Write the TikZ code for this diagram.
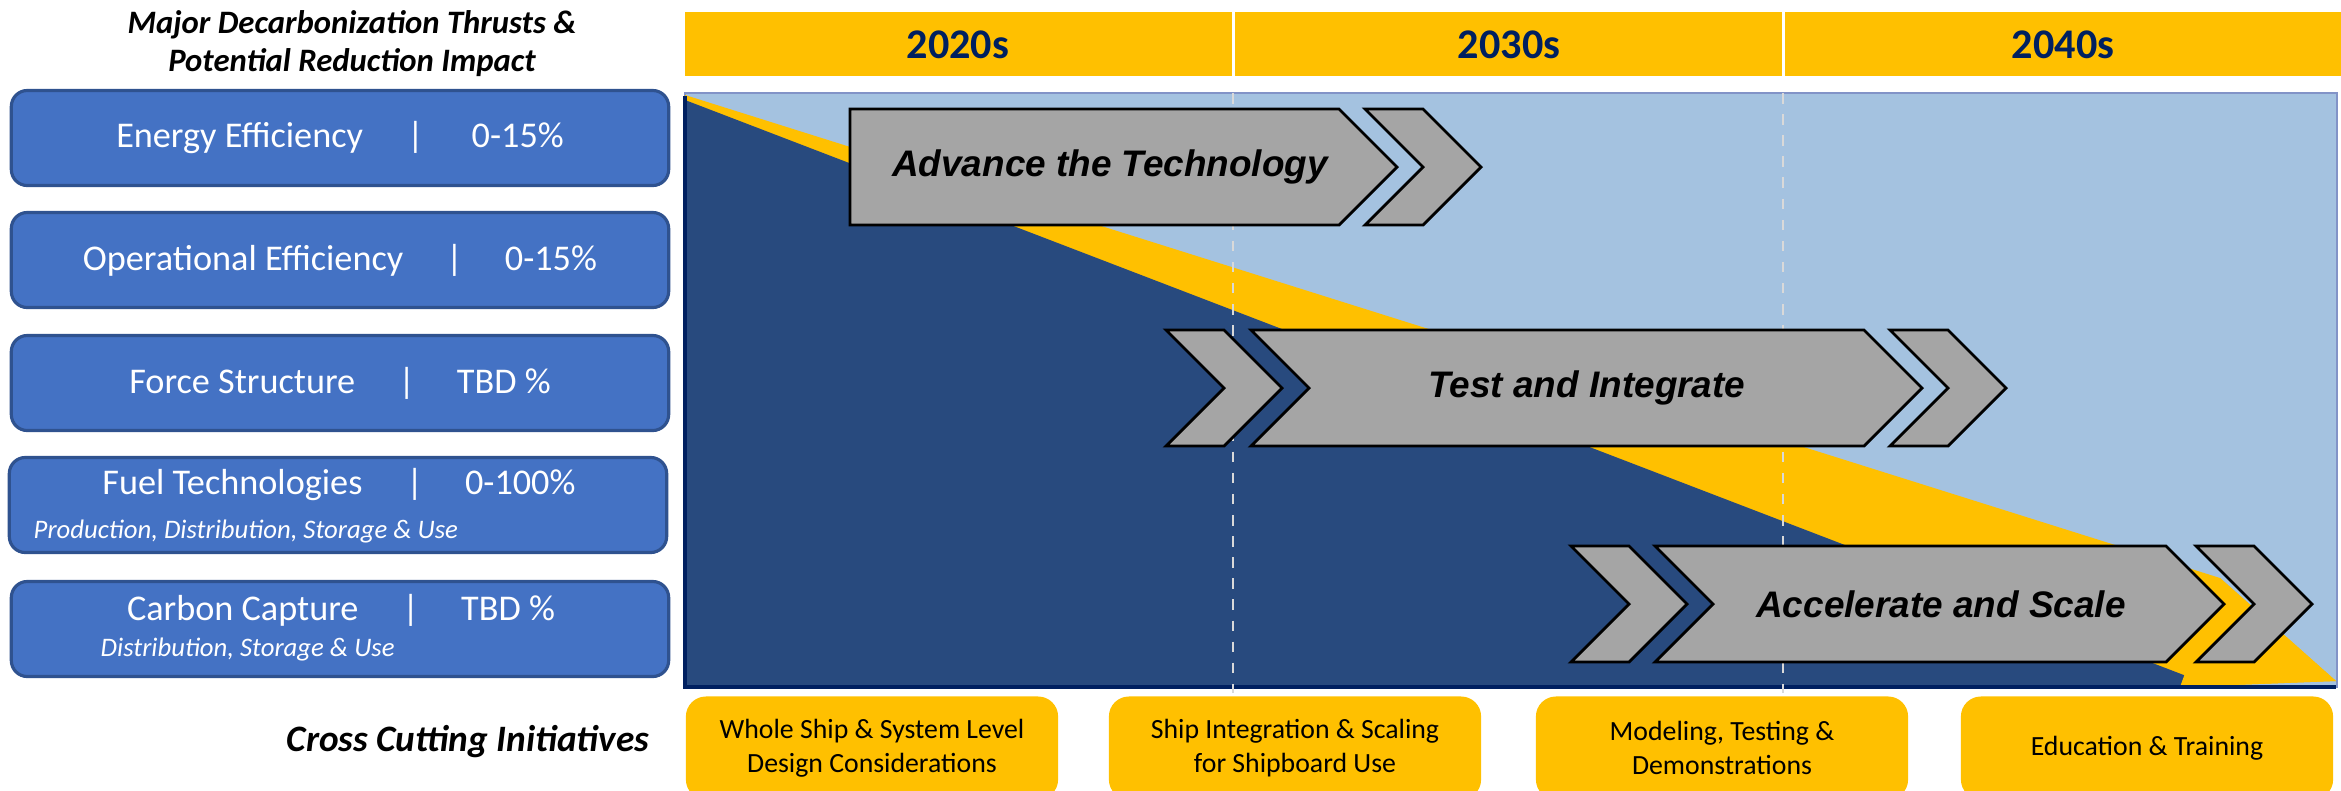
\documentclass[tikz,border=0pt]{standalone}
\usepackage{fontspec}
\setmainfont{Carlito}
\newfontfamily\arialfont{Liberation Sans}
\usetikzlibrary{calc,positioning}
\definecolor{thrustblue}{HTML}{4472C4}
\definecolor{thrustedge}{HTML}{2F528F}
\definecolor{gold}{HTML}{FFC000}
\definecolor{navy}{HTML}{002060}
\definecolor{deepblue}{HTML}{284A7E}
\definecolor{skyblue}{HTML}{A4C2E0}
\definecolor{phasegray}{HTML}{A5A5A5}
\tikzset{
    x=0.01cm, y=-0.01cm, line join=miter,
    thrust/.style={rectangle, rounded corners=0.16cm, draw=thrustedge, line width=0.9pt, fill=thrustblue, minimum width=6.57cm, minimum height=0.95cm, text=white, font=\fontsize{10.3}{12.4}\selectfont, inner sep=0pt},
    thrusttext/.style={text=white, font=\fontsize{10.3}{12.4}\selectfont, inner sep=0pt},
    sub/.style={text=white, font=\fontsize{7.6}{9}\selectfont\itshape, anchor=west, inner sep=0pt},
    heading/.style={font=\fontsize{9.3}{10.8}\selectfont\bfseries\itshape, align=center, inner sep=0pt},
    decade/.style={text=navy, font=\fontsize{12}{14}\selectfont\bfseries},
    phase/.style={fill=phasegray, draw=black, line width=0.8pt},
    phaselabel/.style={font=\arialfont\fontsize{10.5}{12}\selectfont\bfseries\itshape},
    cross/.style={rectangle, rounded corners=0.2cm, fill=gold, minimum width=3.72cm, minimum height=1.03cm, align=center, font=\fontsize{7.9}{9.6}\selectfont, inner sep=0pt},
    decadeline/.style={gray!30, dashed, line width=0.5pt}
}

\begin{document}
\begin{tikzpicture}
    \useasboundingbox (0,0) rectangle (2341,790);
    \clip (0,0) rectangle (2341,790);

    \node[heading] (title) at (352,44) {Major Decarbonization Thrusts \&\\Potential Reduction Impact};
    \node[thrust] (energy) at (340,138) {Energy Efficiency\hspace{0.44cm}|\hspace{0.48cm}0-15\%};
    \node[thrust] (operational) at (340,260) {Operational Efficiency\hspace{0.43cm}|\hspace{0.42cm}0-15\%};
    \node[thrust] (force) at (340,383) {Force Structure\hspace{0.43cm}|\hspace{0.42cm}TBD \%};
    \node[thrust] (fuel) at (338,505) {};
    \node[thrusttext] (fueltext) at (339,485) {Fuel Technologies\hspace{0.44cm}|\hspace{0.42cm}0-100\%};
    \node[sub] (fuelsub) at (33,531) {Production, Distribution, Storage \& Use};
    \node[thrust] (carbon) at (340,629) {};
    \node[thrusttext] (carbontext) at (341,610) {Carbon Capture\hspace{0.44cm}|\hspace{0.42cm}TBD \%};
    \node[sub] (carbonsub) at (100,649) {Distribution, Storage \& Use};
    \node[heading, anchor=east] (crosscut) at (650,742) {\fontsize{10.6}{12}\selectfont Cross Cutting Initiatives};

    \fill[gold] (685,12) rectangle (1232,76);
    \fill[gold] (1235,12) rectangle (1782,76);
    \fill[gold] (1785,12) rectangle (2341,76);
    \node[decade] (d2020) at (958,45) {2020s};
    \node[decade] (d2030) at (1509,45) {2030s};
    \node[decade] (d2040) at (2063,45) {2040s};

    \filldraw[fill=skyblue, draw=skyblue!80!blue!70!gray, line width=0.6pt] (685,93) rectangle (2337,687);
    \fill[gold] (685,95) -- (2220,578) -- (2336,681) -- (2180,687) -- (685,687) -- cycle;
    \fill[deepblue] (685,100) -- (2215,687) -- (685,687) -- cycle;
    \fill[gold] (2220,578) -- (2336,681) -- (2180,687) -- cycle;
    \draw[navy, line width=1.2pt] (685,96) -- (685,687) -- (2336,687);

    \coordinate (g1top) at (1233,93);
    \coordinate (g1bot) at (1233,693);
    \coordinate (g2top) at (1783,93);
    \coordinate (g2bot) at (1783,693);
    \draw[decadeline] (g1top) -- (g1bot);
    \draw[decadeline] (g2top) -- (g2bot);

    \draw[phase] (850,109) -- (1339,109) -- (1397,167) -- (1339,225) -- (850,225) -- cycle;
    \draw[phase] (1365,109) -- (1423,109) -- (1481,167) -- (1423,225) -- (1365,225) -- (1423,167) -- cycle;
    \node[phaselabel] (advance) at (1110,167) {Advance the Technology};

    \draw[phase] (1166,330) -- (1224,330) -- (1282,388) -- (1224,446) -- (1166,446) -- (1224,388) -- cycle;
    \draw[phase] (1251,330) -- (1864,330) -- (1922,388) -- (1864,446) -- (1251,446) -- (1309,388) -- cycle;
    \draw[phase] (1890,330) -- (1948,330) -- (2006,388) -- (1948,446) -- (1890,446) -- (1948,388) -- cycle;
    \node[phaselabel] (test) at (1587,388) {Test and Integrate};

    \draw[phase] (1571,546) -- (1629,546) -- (1687,604) -- (1629,662) -- (1571,662) -- (1629,604) -- cycle;
    \draw[phase] (1655,546) -- (2166,546) -- (2224,604) -- (2166,662) -- (1655,662) -- (1713,604) -- cycle;
    \draw[phase] (2196,546) -- (2254,546) -- (2312,604) -- (2254,662) -- (2196,662) -- (2254,604) -- cycle;
    \node[phaselabel] (accelerate) at (1941,604) {Accelerate and Scale};

    \node[cross] (wholeship) at (872,748) {Whole Ship \& System Level\\Design Considerations};
    \node[cross] (shipint) at (1295,748) {Ship Integration \& Scaling\\for Shipboard Use};
    \node[cross] (modeling) at (1722,748) {Modeling, Testing \&\\Demonstrations};
    \node[cross] (education) at (2147,748) {Education \& Training};
\end{tikzpicture}
\end{document}
